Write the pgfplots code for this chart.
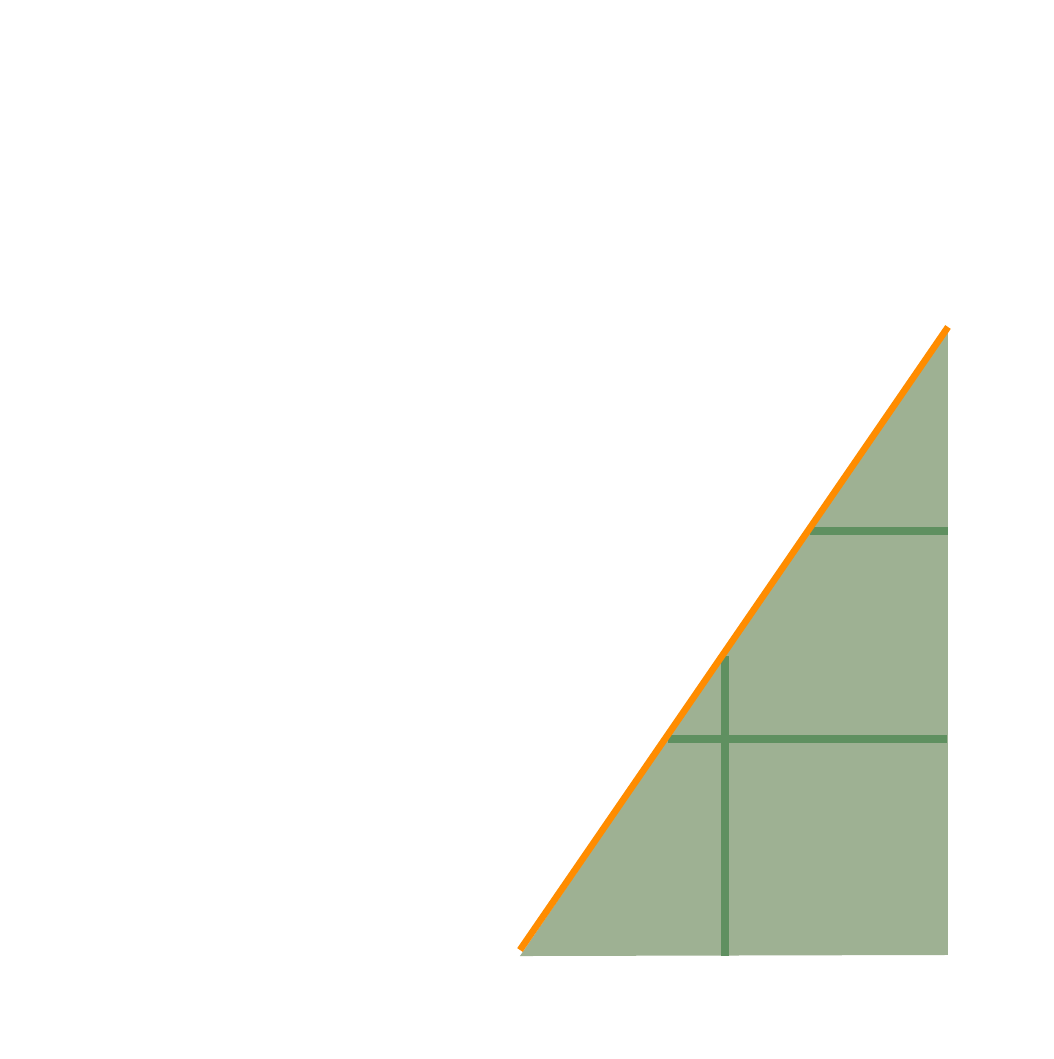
\documentclass[border=0pt]{standalone}
\usepackage{pgfplots}
\pgfplotsset{compat=1.18}
\definecolor{areafill}{HTML}{9EB193}
\definecolor{gridgreen}{HTML}{5F9060}
\definecolor{lineorange}{HTML}{FF8C00}
\begin{document}
\begin{tikzpicture}
	\begin{axis}[
	width=10.53cm, height=10.59cm, scale only axis,
	xmin=-2.486, xmax=2.577,
	ymin=-0.538, ymax=4.553,
	hide axis, clip=false
	]
	% shaded area under the line
	\addplot[draw=none, fill=areafill] coordinates {
		(0.014,-0.043) (2.072,2.981) (2.072,-0.038)
	} -- cycle;
	% grid lines, only inside the area
	\addplot[gridgreen, line width=2.1pt, line cap=butt] coordinates {(0.725,1.0) (2.067,1.0)};
	\addplot[gridgreen, line width=2.1pt, line cap=butt] coordinates {(1.41,2.0) (2.072,2.0)};
	\addplot[gridgreen, line width=2.1pt, line cap=butt] coordinates {(1.0,-0.042) (1.0,1.40)};
	% the line
	\addplot[lineorange, line width=1.9pt, line cap=butt] coordinates {
		(0.014,-0.014) (2.072,2.981)
	};
	\end{axis}
	\pgfresetboundingbox
	\path (current axis.south west) rectangle (current axis.north east);
\end{tikzpicture}
\end{document}
